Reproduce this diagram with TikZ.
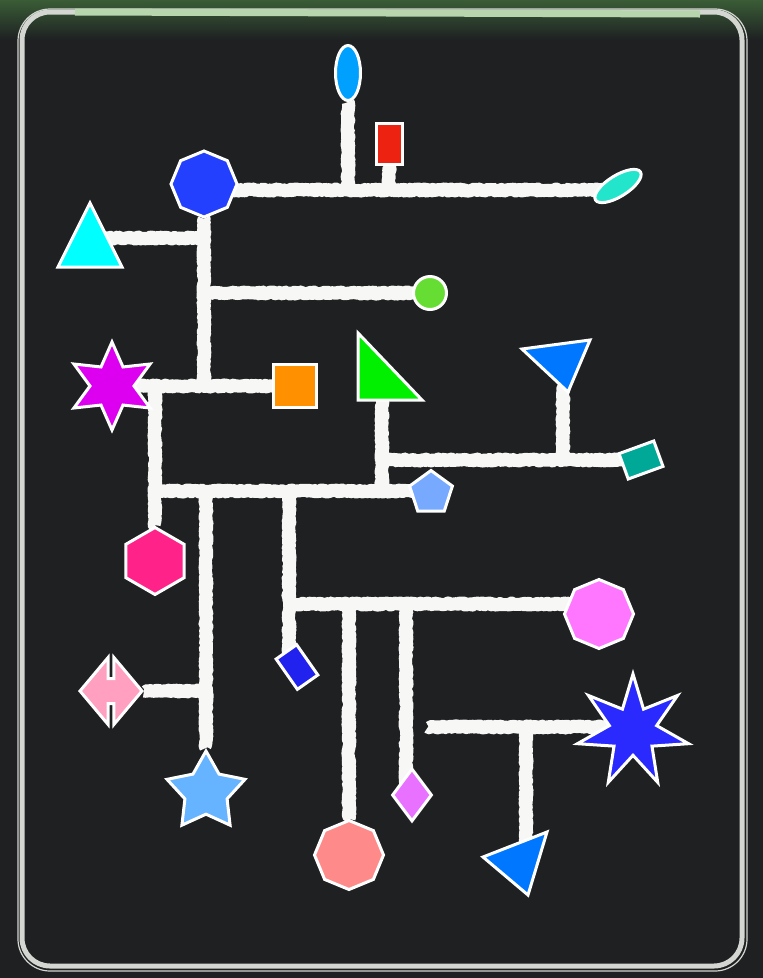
\documentclass[tikz,border=0pt]{standalone}
\usetikzlibrary{shapes.geometric,shapes.arrows,decorations.pathmorphing}
\definecolor{Board}{HTML}{1E2022}
\definecolor{BoardGreen}{HTML}{3A5C36}
\definecolor{Frame}{HTML}{D3D6D1}
\definecolor{FrameGreen}{HTML}{B8D6AE}
\definecolor{Chalk}{HTML}{F7F7F5}
\definecolor{SkyBlue}{HTML}{00A0FF}
\definecolor{Brick}{HTML}{EE2211}
\definecolor{Royal}{HTML}{2440FF}
\definecolor{Turquoise}{HTML}{00FFFF}
\definecolor{Aqua}{HTML}{22E5CC}
\definecolor{Lime}{HTML}{66DD33}
\definecolor{Magenta}{HTML}{DD00F0}
\definecolor{Amber}{HTML}{FF9100}
\definecolor{Leaf}{HTML}{00F000}
\definecolor{Azure}{HTML}{0077FF}
\definecolor{Teal}{HTML}{00A898}
\definecolor{Periwinkle}{HTML}{77A9FF}
\definecolor{Rose}{HTML}{FF2288}
\definecolor{Violet}{HTML}{FF77FF}
\definecolor{Ink}{HTML}{2222EE}
\definecolor{Blush}{HTML}{FFA0C0}
\definecolor{LightSky}{HTML}{66B3FF}
\definecolor{Salmon}{HTML}{FF8A8A}
\definecolor{Orchid}{HTML}{E971FF}
\definecolor{Indigo}{HTML}{2A2AFF}
\pgfdeclarelayer{board}
\pgfsetlayers{board,main}
\begin{document}
\begin{tikzpicture}[x=1pt,y=-1pt,
    piece/.style={draw=white,line width=3pt,inner sep=0pt},
    poly/.style={piece,regular polygon,regular polygon sides=#1},
    wire/.style={draw=Chalk,line width=13pt,line join=round,decorate,
      decoration={random steps,segment length=1.5pt,amplitude=1.1pt}}]
  \useasboundingbox (0,0) rectangle (763,978);
  % pieces
  \node[piece,ellipse,fill=SkyBlue,minimum width=25pt,minimum height=55pt] (topell) at (348,73) {};
  \node[piece,fill=Brick,minimum width=26pt,minimum height=41pt] (redbox) at (389,144) {};
  \node[poly=8,shape border rotate=22.5,fill=Royal,minimum size=66pt] (hub) at (204,184) {};
  \node[piece,ellipse,rotate=32,fill=Aqua,minimum width=53pt,minimum height=21pt] (tealell) at (618,186) {};
  \node[piece,circle,fill=Lime,minimum size=33pt] (lime) at (430,293) {};
  \node[piece,star,star points=6,star point ratio=2,fill=Magenta,minimum size=88pt] (magstar) at (112,386) {};
  \node[piece,fill=Amber,minimum size=43pt] (orsq) at (295,386) {};
  \node[piece,rotate=20,fill=Teal,minimum width=37pt,minimum height=27pt] (tealbox) at (641,460) {};
  \node[poly=5,fill=Periwinkle,minimum size=45pt] (penta) at (431,493) {};
  \node[poly=6,shape border rotate=30,fill=Rose,minimum size=67pt] (hexa) at (155,561) {};
  \node[poly=8,shape border rotate=22.5,fill=Violet,minimum size=69pt] (violet) at (599,614) {};
  \node[piece,rotate=-55,fill=Ink,minimum width=37pt,minimum height=25pt] (bluebox) at (297,667) {};
  \node[piece,double arrow,double arrow head extend=21pt,double arrow tip angle=100,
    inner xsep=2.5pt,inner ysep=11pt,minimum height=62pt,fill=Blush] (darr) at (111,691) {};
  \node[piece,star,star points=5,star point ratio=1.85,fill=LightSky,minimum size=82pt] (lbstar) at (206,792) {};
  \node[piece,diamond,fill=Orchid,minimum width=40pt,minimum height=53pt] (orchid) at (412,795) {};
  \node[poly=8,shape border rotate=22.5,fill=Salmon,minimum size=69pt] (salmon) at (349,855) {};
  \node[piece,star,star points=7,star point ratio=2.35,fill=Indigo,minimum size=114pt] (bstar) at (633,731) {};
  % triangles
  \filldraw[piece,fill=Turquoise] (58,267) -- (90,203) -- (122,267) -- cycle;
  \filldraw[piece,fill=Leaf] (358,333) -- (358,400) -- (422,400) -- cycle;
  \filldraw[piece,fill=Azure] (522,349) -- (590,340) -- (568,392) -- cycle;
  \filldraw[piece,fill=Azure] (483,857) -- (547,832) -- (528,895) -- cycle;
  \coordinate (cyantip) at (100,238);
  \coordinate (greenfoot) at (382,398);
  \coordinate (azurefoot) at (563,385);
  \coordinate (azuretip) at (522,860);
  % junctions
  \coordinate (bus) at (204,190);
  \coordinate (tee) at (382,460);
  \coordinate (drop) at (289,491);
  \coordinate (split) at (289,604);
  \coordinate (dfork) at (406,604);
  \coordinate (stub) at (428,727);
  \coordinate (fork) at (526,727);
  \begin{pgfonlayer}{board}
    \fill[Board] (0,0) rectangle (763,978);
    \shade[top color=BoardGreen,bottom color=Board] (0,0) rectangle (763,40);
    \draw[Frame,line width=1.2pt,rounded corners=32pt] (18,9) rectangle (747,971);
    \draw[Frame,line width=5pt,rounded corners=28pt] (22,12) rectangle (742,966);
    \draw[FrameGreen,line width=7pt] (75,12) -- (700,14);
    % chalk lines
    \draw[wire] (bus) -- (bus -| tealell);
    \draw[wire] (topell) -- (topell |- bus);
    \draw[wire] (redbox) -- (redbox |- bus);
    \draw[wire] (hub) -- (hub |- orsq);
    \draw[wire] (hub |- cyantip) -- (cyantip);
    \draw[wire] (hub |- lime) -- (lime);
    \draw[wire] (magstar) -- (orsq);
    \draw[wire] (magstar -| hexa) -- (hexa);
    \draw[wire] (hexa |- drop) -- (drop -| penta);
    \draw[wire] (greenfoot) -- (greenfoot |- drop);
    \draw[wire] (tee) -- (tee -| tealbox);
    \draw[wire] (azurefoot) -- (azurefoot |- tee);
    \draw[wire] (lbstar |- drop) -- (lbstar);
    \draw[wire] (darr) -- (darr -| lbstar);
    \draw[wire] (drop) -- (drop |- bluebox);
    \draw[wire] (split) -- (split -| violet);
    \draw[wire] (salmon |- split) -- (salmon);
    \draw[wire] (dfork) -- (dfork |- orchid);
    \draw[wire] (stub) -- (stub -| bstar);
    \draw[wire] (fork) -- (fork |- azuretip);
  \end{pgfonlayer}
\end{tikzpicture}
\end{document}
